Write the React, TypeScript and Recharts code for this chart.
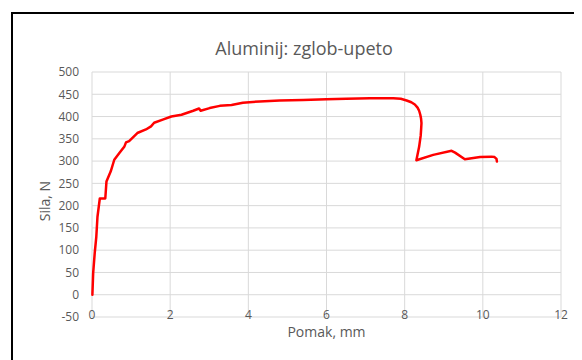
import React from 'react';
import { LineChart, Line, XAxis, YAxis, CartesianGrid, Label } from 'recharts';

// Displacement (mm) and force (N) readings of the aluminium specimen, in recorded order
const displacement = [
  0.01, 0.03, 0.07, 0.11, 0.14, 0.2, 0.34, 0.37, 0.48, 0.57, 0.7, 0.83, 0.87, 0.95,
  1.16, 1.38, 1.51, 1.59, 1.81, 2.03, 2.29, 2.59, 2.74, 2.78, 3.01, 3.27, 3.57, 3.86,
  4.29, 4.8, 5.4, 6.0, 6.51, 7.11, 7.71, 7.9, 8.05, 8.17, 8.26, 8.33, 8.37, 8.4, 8.42,
  8.43, 8.42, 8.41, 8.37, 8.3,
  8.73, 9.2, 9.29, 9.54, 9.93, 10.22, 10.3, 10.35, 10.36,
];
const force = [
  0, 49, 94, 130, 175, 216, 216, 254, 277, 303, 318, 333, 342, 345,
  363, 371, 378, 386, 393, 400, 404, 413, 418, 413, 419, 424, 426, 431,
  434, 436, 437, 439, 440, 441, 441, 440, 436, 432, 427, 420, 413, 404, 395,
  385, 370, 357, 332, 302,
  314, 323, 319, 304, 309, 310, 309, 305, 299,
];

const xTicks = [0, 2, 4, 6, 8, 10, 12];
const yTicks = [-50, 0, 50, 100, 150, 200, 250, 300, 350, 400, 450, 500];

const title = 'Aluminij: zglob-upeto';
const xTitle = 'Pomak, mm';
const yTitle = 'Sila, N';

const data = displacement.map((x, i) => ({ x, y: force[i] }));

const FONT = "'Open Sans', sans-serif";
const TEXT = '#595959';

const XTick = (props: any) => {
  const { x, y, payload } = props;
  return (
    <text x={x} y={y - 3} textAnchor="middle" dominantBaseline="central" fill={TEXT} fontFamily={FONT} fontSize={12}>
      {payload.value}
    </text>
  );
};

const YTitle = (props: any) => {
  const vb = props.viewBox;
  const cx = vb.x + 12;
  const cy = 193;
  return (
    <text x={cx} y={cy} transform={`rotate(-90 ${cx} ${cy})`} textAnchor="middle" dominantBaseline="central" fill={TEXT} fontFamily={FONT} fontSize={14}>
      {yTitle}
    </text>
  );
};

export default function App() {
  return (
    <div style={{ position: 'relative', width: 574, height: 352, background: '#fff' }}>
      <div
        style={{
          position: 'absolute',
          left: 3,
          top: 4,
          width: 571,
          height: 348,
          borderLeft: '2px solid #000',
          borderTop: '2px solid #000',
          boxSizing: 'border-box',
        }}
      />
      <LineChart
        width={574}
        height={352}
        data={data}
        margin={{ top: 64, right: 21, left: 24, bottom: 13 }}
        style={{ position: 'absolute', left: 0, top: 0 }}
      >
        <text x={296} y={47} textAnchor="middle" fill={TEXT} fontFamily={FONT} fontSize={18}>
          {title}
        </text>
        <CartesianGrid stroke="#d9d9d9" strokeWidth={1} />
        <XAxis
          type="number"
          dataKey="x"
          domain={[0, 12]}
          ticks={xTicks}
          interval={0}
          axisLine={false}
          tickLine={false}
          tickSize={0}
          tickMargin={0}
          height={30}
          tick={<XTick />}
        >
          <Label value={xTitle} position="insideBottom" offset={10} fill={TEXT} fontFamily={FONT} fontSize={14} />
        </XAxis>
        <YAxis
          type="number"
          domain={[-50, 500]}
          ticks={yTicks}
          interval={0}
          axisLine={false}
          tickLine={false}
          tickSize={0}
          tickMargin={13}
          width={60}
          tick={{ fill: TEXT, fontFamily: FONT, fontSize: 12 }}
        >
          <Label content={<YTitle />} />
        </YAxis>
        <Line
          type="linear"
          dataKey="y"
          stroke="#ff0000"
          strokeWidth={2.5}
          dot={false}
          isAnimationActive={false}
          strokeLinejoin="round"
          strokeLinecap="round"
        />
      </LineChart>
    </div>
  );
}
